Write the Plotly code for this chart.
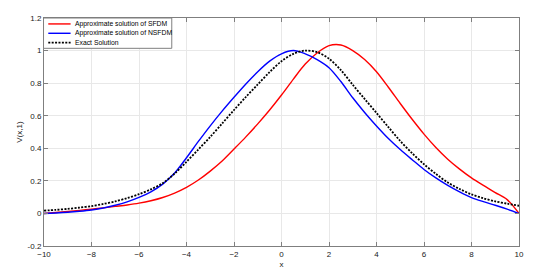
import plotly.graph_objects as go

# ---- data (x grid every 0.5) ----
x_vals = [-10, -9.5, -9, -8.5, -8, -7.5, -7, -6.5, -6, -5.5, -5, -4.5, -4, -3.5, -3, -2.5, -2,
          -1.5, -1, -0.5, 0, 0.5, 1, 1.5, 2, 2.5, 3, 3.5, 4, 4.5, 5, 5.5, 6, 6.5, 7, 7.5, 8,
          8.5, 9, 9.5, 10]

v_sfdm = [0.0, 0.006, 0.012, 0.019, 0.026, 0.034, 0.043, 0.052, 0.063, 0.078, 0.098, 0.125,
          0.16, 0.205, 0.26, 0.322, 0.395, 0.47, 0.55, 0.635, 0.727, 0.825, 0.917, 0.985, 1.03,
          1.034, 1.0, 0.945, 0.87, 0.775, 0.675, 0.578, 0.487, 0.405, 0.333, 0.272, 0.218,
          0.172, 0.128, 0.085, 0.0]

v_nsfdm = [0.0, 0.003, 0.007, 0.013, 0.021, 0.033, 0.05, 0.071, 0.098, 0.133, 0.18, 0.248,
           0.342, 0.442, 0.538, 0.628, 0.713, 0.795, 0.87, 0.935, 0.98, 1.0, 0.98, 0.945,
           0.895, 0.81, 0.71, 0.62, 0.537, 0.46, 0.392, 0.33, 0.27, 0.218, 0.172, 0.132, 0.097,
           0.072, 0.05, 0.026, 0.0]

v_exact = [0.017, 0.022, 0.028, 0.036, 0.045, 0.058, 0.074, 0.094, 0.118, 0.148, 0.186, 0.245,
           0.317, 0.393, 0.47, 0.552, 0.635, 0.715, 0.792, 0.868, 0.935, 0.98, 1.0, 0.99, 0.95,
           0.88, 0.79, 0.703, 0.617, 0.53, 0.445, 0.37, 0.302, 0.243, 0.19, 0.15, 0.117, 0.093,
           0.074, 0.06, 0.047]

x_ticks = [-10, -8, -6, -4, -2, 0, 2, 4, 6, 8, 10]
y_ticks = [-0.2, 0, 0.2, 0.4, 0.6, 0.8, 1.0, 1.2]
y_ticklabels = ["-0.2", "0", "0.2", "0.4", "0.6", "0.8", "1", "1.2"]

names = ["Approximate solution of SFDM", "Approximate solution of NSFDM", "Exact Solution"]
colors = ["#ff0000", "#0000ff", "#000000"]
dashes = ["solid", "solid", "2px,1.4px"]
widths = [1.4, 1.4, 1.8]
series = [v_sfdm, v_nsfdm, v_exact]

FONT = "Liberation Sans, Arial, Helvetica, sans-serif"

fig = go.Figure()
for name, vals, c, d, w in zip(names, series, colors, dashes, widths):
    fig.add_trace(go.Scatter(x=x_vals, y=vals, mode="lines", name=name, showlegend=False,
                             line=dict(color=c, width=w, dash=d, shape="spline", smoothing=0.9)))

axis_common = dict(
    showgrid=True, gridcolor="#e8e8e8", gridwidth=1,
    showline=True, linecolor="#7f7f7f", linewidth=1, mirror="ticks",
    ticks="inside", ticklen=4, tickcolor="#7f7f7f",
    zeroline=False, automargin=False,
    tickfont=dict(family=FONT, size=8, color="#1a1a1a"),
)

# ---- legend drawn in paper coordinates (compact MATLAB-style box) ----
leg_box = dict(x0=-0.001, x1=0.269, y0=0.867, y1=1.0)
leg_line_x = (0.009, 0.056)
leg_rows_y = [0.974, 0.933, 0.892]
leg_text_x = 0.06

shapes = [dict(type="rect", xref="paper", yref="paper", layer="above",
               fillcolor="white", line=dict(color="#7f7f7f", width=1), **leg_box)]
annotations = []
for name, c, d, w, yy in zip(names, colors, dashes, widths, leg_rows_y):
    shapes.append(dict(type="line", xref="paper", yref="paper", layer="above",
                       x0=leg_line_x[0], x1=leg_line_x[1], y0=yy, y1=yy,
                       line=dict(color=c, width=w, dash=d)))
    annotations.append(dict(text=name, xref="paper", yref="paper", x=leg_text_x, y=yy,
                            xanchor="left", yanchor="middle", showarrow=False,
                            font=dict(family=FONT, size=6.8, color="#000")))

fig.update_layout(
    width=543, height=272,
    margin=dict(l=36, r=32, t=10, b=34),
    paper_bgcolor="white", plot_bgcolor="white",
    font=dict(family=FONT, size=8, color="#1a1a1a"),
    xaxis=dict(range=[-10, 10], tickvals=x_ticks,
               title=dict(text="x", font=dict(size=8), standoff=3), **axis_common),
    yaxis=dict(range=[-0.2, 1.2], tickvals=y_ticks, ticktext=y_ticklabels,
               title=dict(text="V(x,1)", font=dict(size=8), standoff=3), **axis_common),
    shapes=shapes,
    annotations=annotations,
    showlegend=False,
)

fig.write_html("out.html")
